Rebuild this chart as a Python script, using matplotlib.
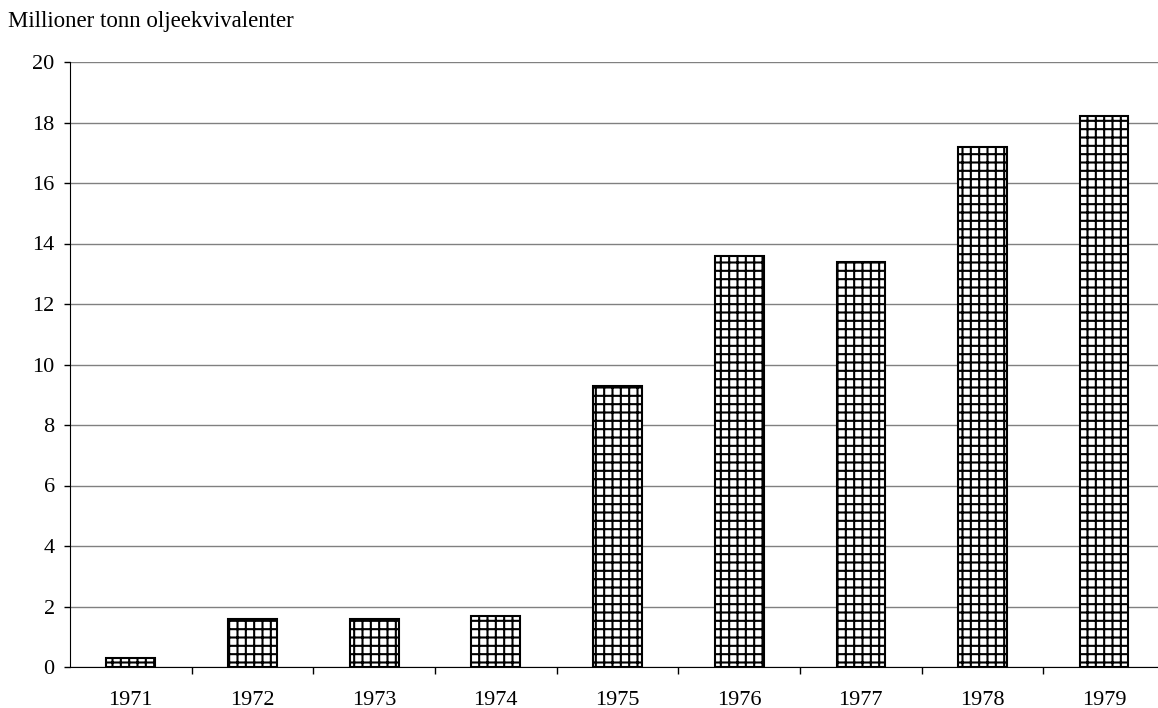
import matplotlib.pyplot as plt
import numpy as np

years = ["1971", "1972", "1973", "1974", "1975", "1976", "1977", "1978", "1979"]
values = [0.3, 1.6, 1.6, 1.7, 9.3, 13.6, 13.4, 17.2, 18.2]
yticks = [0, 2, 4, 6, 8, 10, 12, 14, 16, 18, 20]

plt.rcParams['font.family'] = ['Liberation Serif', 'DejaVu Serif']
plt.rcParams['hatch.linewidth'] = 1.5

fig = plt.figure(figsize=(11.58, 7.08), dpi=100)
ax = fig.add_axes([70/1158, 41/708, 1095/1158, 605/708])

x = np.arange(len(years))
ax.bar(x, values, width=0.4, color='white', edgecolor='black', linewidth=1.5, hatch='++', zorder=3)

ax.set_xlim(-0.5, len(years) - 0.5)
ax.set_ylim(0, 20)
ax.set_yticks(yticks)
ax.set_yticklabels([str(t) for t in yticks], fontsize=16)
ax.yaxis.grid(True, color='#808080', linewidth=1)
ax.set_axisbelow(True)

# category labels centred, tick marks on the boundaries between categories
ax.set_xticks(x)
ax.set_xticklabels(years, fontsize=16)
ax.tick_params(axis='x', which='major', length=0, pad=17)
ax.set_xticks(np.arange(len(years)) + 0.5, minor=True)
ax.tick_params(axis='x', which='minor', length=5, width=1, color='black', direction='out')
ax.tick_params(axis='y', length=4, width=1, pad=7, direction='out')

ax.spines['top'].set_visible(False)
ax.spines['right'].set_visible(False)
ax.spines['left'].set_color('black')
ax.spines['bottom'].set_color('black')

fig.text(8/1158, 1 - 21/708, "Millioner tonn oljeekvivalenter", fontsize=16.5, va='center', ha='left')

fig.savefig("out.png", dpi=100)
